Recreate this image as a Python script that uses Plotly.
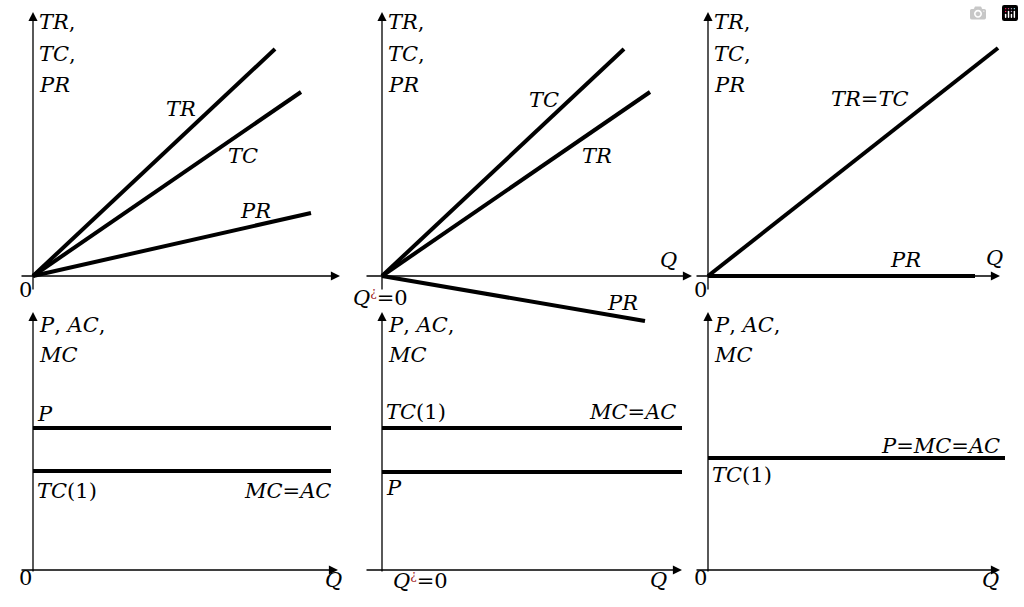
import plotly.graph_objects as go

# ---- data (Q units, value units) ----
p1_TR = ([0, 24.2], [0, 22.7]); p1_TC = ([0, 26.8], [0, 18.4]); p1_PR = ([0, 27.8], [0, 6.3])
p2_TC = ([0, 24.2], [0, 22.7]); p2_TR = ([0, 26.8], [0, 18.4]); p2_PR = ([0, 26.3], [0, -4.5])
p3_TRTC = ([0, 29.0], [0, 22.8]); p3_PR = ([0, 26.7], [0, 0])
p4_P = ([0, 29.8], [14.2, 14.2]); p4_MCAC = ([0, 29.8], [9.9, 9.9])
p5_TC1 = ([0, 30.0], [14.2, 14.2]); p5_P = ([0, 30.0], [9.8, 9.8])
p6_PMCAC = ([0, 29.7], [11.2, 11.2])

W, H, U = 1024, 607, 10.0
origins = [(33, 276), (382, 276), (708, 276), (33, 570), (382, 570), (708, 570)]
fig = go.Figure()
FONT = dict(family="DejaVu Serif", size=21, color="black")

def axes(i):
    ox, oy = origins[i]
    top = i < 3
    xr = [-2, 31]; yr = [-6, 26.4] if top else [-3, 26]
    n = "" if i == 0 else str(i + 1)
    fig.layout["xaxis" + n] = dict(range=xr, domain=[(ox + xr[0]*U)/W, (ox + xr[1]*U)/W],
                                   visible=False, anchor="y" + n, fixedrange=True)
    fig.layout["yaxis" + n] = dict(range=yr, domain=[(H - (oy - yr[0]*U))/H, (H - (oy - yr[1]*U))/H],
                                   visible=False, anchor="x" + n, fixedrange=True)
    return "x" + n, "y" + n

def line(i, d, w=4):
    xa, ya = axes(i)
    fig.add_trace(go.Scatter(x=d[0], y=d[1], mode="lines", line=dict(color="black", width=w),
                             xaxis=xa, yaxis=ya, showlegend=False, hoverinfo="skip"))

def arrow(i, x0, y0, x1, y1):
    xa, ya = axes(i)
    fig.add_annotation(x=x1, y=y1, ax=x0, ay=y0, xref=xa, yref=ya, axref=xa, ayref=ya,
                       showarrow=True, arrowhead=2, arrowsize=1.4, arrowwidth=1.3,
                       arrowcolor="black", text="")

def lab(i, x, y, t, anchor="center"):
    xa, ya = axes(i)
    fig.add_annotation(x=x, y=y, xref=xa, yref=ya, text=t, showarrow=False,
                       xanchor=anchor, font=FONT)

xend = [30.7, 31.0, 29.2, 30.5, 30.0, 29.2]
xstart = [-1.3, -1.7, -1.3, -1.3, -1.7, -1.3]
for i in range(6):
    top = i < 3
    arrow(i, xstart[i], 0, xend[i], 0)
    arrow(i, 0, -1.5 if top else -0.3, 0, 26.4 if top else 25.8)

line(0, p1_TR); line(0, p1_TC); line(0, p1_PR)
line(1, p2_TC); line(1, p2_TR); line(1, p2_PR)
line(2, p3_TRTC); line(2, p3_PR)
line(3, p4_P); line(3, p4_MCAC)
line(4, p5_TC1); line(4, p5_P)
line(5, p6_PMCAC)

Qs = "<i>Q</i><sup><span style='color:#a02020;font-size:12px'>¿</span></sup>=0"
for i in range(3):
    lab(i, 0.4, 25.4, "<i>TR</i>,", "left")
    lab(i, 0.4, 22.2, "<i>TC</i>,", "left")
    lab(i, 0.4, 19.1, "<i>PR</i>", "left")
for i in range(3, 6):
    lab(i, 0.4, 24.5, "<i>P</i>, <i>AC</i>,", "left")
    lab(i, 0.4, 21.5, "<i>MC</i>", "left")

lab(0, 14.8, 16.7, "<i>TR</i>"); lab(0, 21, 12, "<i>TC</i>"); lab(0, 22.2, 6.5, "<i>PR</i>")
lab(0, 31.2, 1.8, "<i>Q</i>"); lab(0, -0.8, -1.4, "0")
lab(1, 16.2, 17.6, "<i>TC</i>"); lab(1, 21.5, 12, "<i>TR</i>"); lab(1, 24, -2.7, "<i>PR</i>")
lab(1, 28.6, 1.6, "<i>Q</i>"); lab(1, -0.2, -2.1, Qs)
lab(2, 16.2, 17.7, "<i>TR</i>=<i>TC</i>"); lab(2, 19.7, 1.6, "<i>PR</i>")
lab(2, 28.6, 1.8, "<i>Q</i>"); lab(2, -0.8, -1.4, "0")
lab(3, 0.2, 15.6, "<i>P</i>", "left"); lab(3, 0.2, 7.9, "<i>TC</i>(1)", "left")
lab(3, 30, 7.9, "<i>MC</i>=<i>AC</i>", "right"); lab(3, -0.8, -0.8, "0"); lab(3, 30, -1, "<i>Q</i>")
lab(4, 0.2, 15.8, "<i>TC</i>(1)", "left"); lab(4, 29.6, 15.8, "<i>MC</i>=<i>AC</i>", "right")
lab(4, 0.2, 8.2, "<i>P</i>", "left"); lab(4, 3.8, -1, Qs); lab(4, 27.6, -1, "<i>Q</i>")
lab(5, 29.4, 12.4, "<i>P</i>=<i>MC</i>=<i>AC</i>", "right"); lab(5, 0.2, 9.5, "<i>TC</i>(1)", "left")
lab(5, -0.8, -0.8, "0"); lab(5, 28.2, -1, "<i>Q</i>")

fig.update_layout(width=W, height=H, margin=dict(l=0, r=0, t=0, b=0),
                  plot_bgcolor="rgba(0,0,0,0)", paper_bgcolor="white")
fig.write_html("out.html", post_script="document.body.style.margin='0';document.body.style.overflow='hidden';")
